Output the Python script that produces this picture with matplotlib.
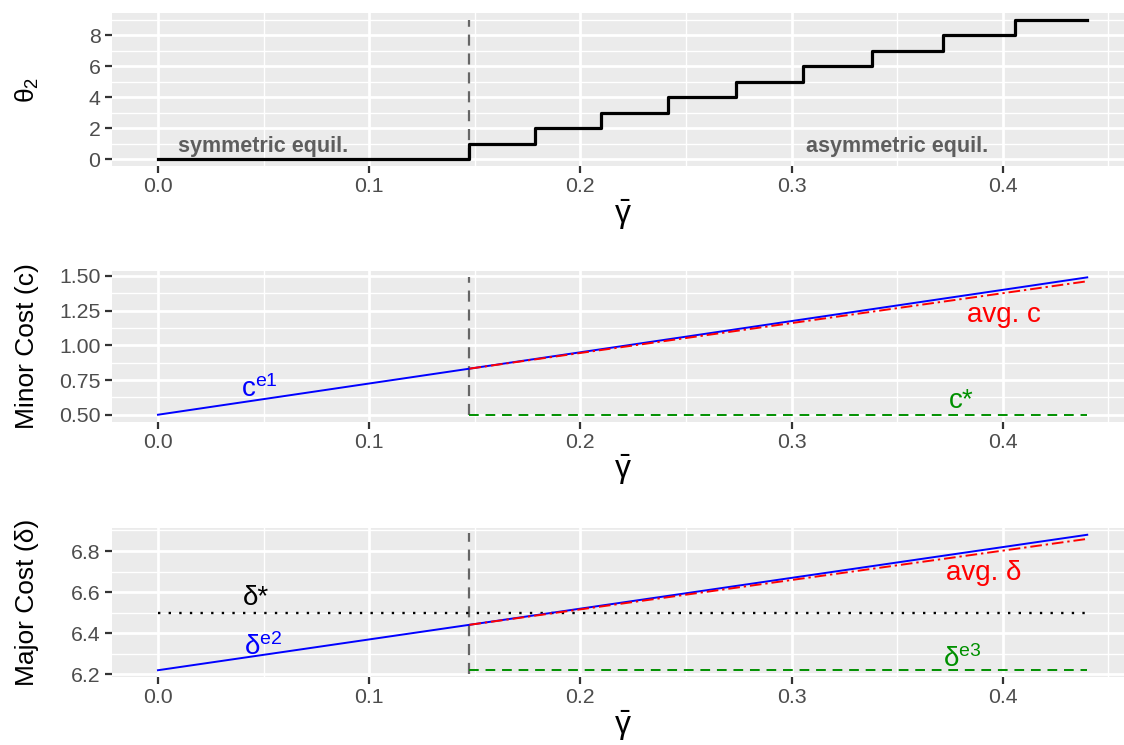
import matplotlib
matplotlib.use("Agg")
import matplotlib.pyplot as plt
import numpy as np

plt.rcParams['font.family'] = ['Liberation Sans', 'DejaVu Sans']
plt.rcParams['mathtext.fontset'] = 'custom'
plt.rcParams['mathtext.rm'] = 'Liberation Sans'
plt.rcParams['mathtext.it'] = 'Liberation Sans:italic'
plt.rcParams['mathtext.bf'] = 'Liberation Sans:bold'

# ---------------- data ----------------
gamma_cut = 0.1475
gamma_steps = [0.0, 0.1475, 0.1785, 0.2100, 0.2416, 0.2735, 0.3054, 0.3382, 0.3716, 0.4060, 0.4400]
theta2_steps = [0, 1, 2, 3, 4, 5, 6, 7, 8, 9, 9]

gamma_line = [0.0, 0.1475, 0.44]
c_e1 = [0.50, 0.832, 1.490]
gamma_asym = [0.1475, 0.44]
avg_c = [0.832, 1.462]
c_star = [0.50, 0.50]

delta_e2 = [6.22, 6.441, 6.879]
avg_delta = [6.441, 6.859]
delta_e3 = [6.22, 6.22]
gamma_full = [0.0, 0.44]
delta_star = [6.50, 6.50]

x_ticks = [0.0, 0.1, 0.2, 0.3, 0.4]
x_minor = [0.05, 0.15, 0.25, 0.35, 0.45]
top_yticks = [0, 2, 4, 6, 8]
top_yminor = [1, 3, 5, 7, 9]
mid_yticks = [0.50, 0.75, 1.00, 1.25, 1.50]
mid_yminor = [0.625, 0.875, 1.125, 1.375]
bot_yticks = [6.2, 6.4, 6.6, 6.8]
bot_yminor = [6.3, 6.5, 6.7, 6.9]

# ---------------- figure ----------------
W, H = 1124, 745
fig = plt.figure(figsize=(W / 100, H / 100), dpi=100)

xlim = (-0.022, 0.462)
left_px = 111.5
right_px = 1133.7

def make_ax(top_px, bot_px):
    return fig.add_axes([left_px / W, 1 - bot_px / H, (right_px - left_px) / W, (bot_px - top_px) / H])

ax1 = make_ax(13.0, 166.0)
ax2 = make_ax(270.5, 421.6)
ax3 = make_ax(528.0, 677.0)

tick_col = '#4D4D4D'
gamma_label = r'$\bar{\mathregular{γ}}$'

def style(ax, yticks, yminor, ylim, fmt):
    ax.set_facecolor('#EBEBEB')
    for s in ax.spines.values():
        s.set_visible(False)
    ax.set_xlim(*xlim)
    ax.set_ylim(*ylim)
    ax.set_xticks(x_ticks)
    ax.set_xticks(x_minor, minor=True)
    ax.set_yticks(yticks)
    ax.set_yticks(yminor, minor=True)
    ax.set_xticklabels([f"{v:.1f}" for v in x_ticks])
    ax.set_yticklabels([fmt.format(v) for v in yticks])
    ax.grid(which='major', color='white', linewidth=2.0, zorder=0)
    ax.grid(which='minor', color='white', linewidth=1.0, zorder=0)
    ax.set_axisbelow(True)
    ax.tick_params(which='major', length=5, width=1.6, color='#333333',
                   labelsize=15.3, labelcolor=tick_col, pad=3)
    ax.tick_params(which='minor', length=0)
    ax.set_xlabel(gamma_label, fontsize=23, labelpad=1)

def expand(lo, hi):
    r = hi - lo
    return (lo - 0.05 * r, hi + 0.05 * r)

# ---- top panel ----
style(ax1, top_yticks, top_yminor, expand(0, 9), "{:d}")
ax1.step(gamma_steps, theta2_steps, where='post', color='black', lw=2.3, zorder=3)
ax1.plot([gamma_cut, gamma_cut], [min(theta2_steps), max(theta2_steps)], color='#666666',
         lw=1.6, dashes=(5, 3.5), zorder=2)
ax1.text(0.05, 0.45, 'symmetric equil.', ha='center', va='baseline', fontsize=15.5,
         fontweight='bold', color='#5E5E5E', zorder=4)
ax1.text(0.35, 0.45, 'asymmetric equil.', ha='center', va='baseline', fontsize=15.5,
         fontweight='bold', color='#5E5E5E', zorder=4)

# ---- middle panel ----
style(ax2, mid_yticks, mid_yminor, expand(0.5, 1.49), "{:.2f}")
ax2.plot([gamma_cut, gamma_cut], [0.5, 1.49], color='#666666', lw=1.6, dashes=(5, 3.5), zorder=2)
ax2.plot(gamma_line, c_e1, color='#0000FF', lw=1.4, zorder=3)
ax2.plot(gamma_asym, avg_c, color='#FF0000', lw=1.4, dashes=(6, 2, 1.2, 2), zorder=4)
ax2.plot(gamma_asym, c_star, color='#009000', lw=1.4, dashes=(5, 3.5), zorder=3)
ax2.text(0.048, 0.63, r'$\mathregular{c^{e1}}$', ha='center', va='baseline', fontsize=20, color='#0000FF')
ax2.text(0.4006, 1.17, 'avg. c', ha='center', va='baseline', fontsize=20, color='#FF0000')
ax2.text(0.3805, 0.548, 'c*', ha='center', va='baseline', fontsize=20, color='#009000')

# ---- bottom panel ----
style(ax3, bot_yticks, bot_yminor, expand(6.22, 6.879), "{:.1f}")
ax3.plot([gamma_cut, gamma_cut], [6.20, 6.89], color='#666666', lw=1.6, dashes=(5, 3.5), zorder=2)
ax3.plot(gamma_full, delta_star, color='black', lw=1.7, dashes=(1, 3.5), zorder=3)
ax3.plot(gamma_line, delta_e2, color='#0000FF', lw=1.4, zorder=3)
ax3.plot(gamma_asym, avg_delta, color='#FF0000', lw=1.4, dashes=(6, 2, 1.2, 2), zorder=4)
ax3.plot(gamma_asym, delta_e3, color='#009000', lw=1.4, dashes=(5, 3.5), zorder=3)
ax3.text(0.0465, 6.538, 'δ*', ha='center', va='baseline', fontsize=20, color='black')
ax3.text(0.050, 6.296, r'$\mathregular{δ^{e2}}$', ha='center', va='baseline', fontsize=20, color='#0000FF')
ax3.text(0.3908, 6.66, 'avg. δ', ha='center', va='baseline', fontsize=20, color='#FF0000')
ax3.text(0.3807, 6.234, r'$\mathregular{δ^{e3}}$', ha='center', va='baseline', fontsize=20, color='#009000')

# ---- y titles ----
fig.text(27 / W, 1 - 90 / H, r'$\mathregular{θ_2}$', rotation=90, ha='center', va='center', fontsize=19)
fig.text(27 / W, 1 - 346 / H, 'Minor Cost (c)', rotation=90, ha='center', va='center', fontsize=19)
fig.text(27 / W, 1 - 602 / H, 'Major Cost (δ)', rotation=90, ha='center', va='center', fontsize=19)

fig.savefig('out.png', dpi=100)
